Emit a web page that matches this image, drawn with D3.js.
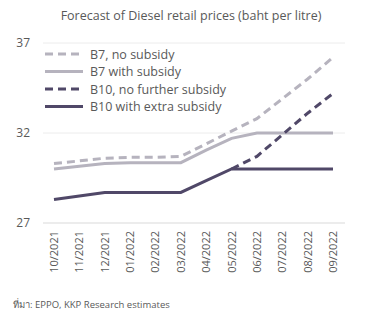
<!DOCTYPE html>
<html>
<head>
<meta charset="utf-8">
<script src="https://cdn.jsdelivr.net/npm/d3@7"></script>
<style>
  body { margin: 0; background: #fff; }
  text { font-family: "Open Sans", "Noto Sans", sans-serif; fill: #595959; }
</style>
</head>
<body>
<svg width="376" height="323"></svg>
<script>
// Data
var months = ["10/2021", "11/2021", "12/2021", "01/2022", "02/2022", "03/2022",
              "04/2022", "05/2022", "06/2022", "07/2022", "08/2022", "09/2022"];
var b7NoSubsidy   = [30.3, 30.45, 30.6, 30.65, 30.65, 30.7, 31.4, 32.1, 32.8, 33.9, 35.0, 36.2];
var b7Subsidy     = [30.0, 30.15, 30.3, 30.35, 30.35, 30.35, 31.05, 31.7, 32.0, 32.0, 32.0, 32.0];
var b10NoFurther  = [null, null, null, null, null, null, null, 30.0, 30.7, 31.9, 33.1, 34.2];
var b10Extra      = [28.3, 28.5, 28.7, 28.7, 28.7, 28.7, 29.35, 30.0, 30.0, 30.0, 30.0, 30.0];
var yTicks = [27, 32, 37];
var seriesNames = ["B7, no subsidy", "B7 with subsidy", "B10, no further subsidy", "B10 with extra subsidy"];

var light = "#b6b3be", dark = "#504868";
var series = [
  { name: seriesNames[0], values: b7NoSubsidy, color: light, dash: "8,5" },
  { name: seriesNames[1], values: b7Subsidy, color: light, dash: null },
  { name: seriesNames[2], values: b10NoFurther, color: dark, dash: "8,5" },
  { name: seriesNames[3], values: b10Extra, color: dark, dash: null }
];

var svg = d3.select("svg");

var x = d3.scalePoint().domain(months).range([54, 333]);
var y = d3.scaleLinear().domain([27, 37]).range([223, 43]);

// Title
svg.append("text")
  .attr("x", 191).attr("y", 20)
  .attr("text-anchor", "middle")
  .style("font-size", "12.5px")
  .text("Forecast of Diesel retail prices (baht per litre)");

// Gridlines
svg.selectAll(".grid")
  .data(yTicks)
  .enter().append("line")
  .attr("x1", 43).attr("x2", 345)
  .attr("y1", d => y(d)).attr("y2", d => y(d))
  .attr("stroke", d => d === 27 ? "#d9d9d9" : "#ececec")
  .attr("stroke-width", 1);

// Y axis labels
svg.selectAll(".ylab")
  .data(yTicks)
  .enter().append("text")
  .attr("x", 30).attr("y", d => y(d) + 4)
  .attr("text-anchor", "end")
  .style("font-size", "12px")
  .text(d => d);

// X axis labels (rotated)
svg.selectAll(".xlab")
  .data(months)
  .enter().append("text")
  .attr("transform", d => "translate(" + (x(d) + 4) + ",231) rotate(-90)")
  .attr("text-anchor", "end")
  .style("font-size", "11px")
  .text(d => d);

// Lines
var line = d3.line()
  .defined(d => d.v != null)
  .x(d => x(d.m))
  .y(d => y(d.v));

svg.selectAll(".series")
  .data(series)
  .enter().append("path")
  .attr("fill", "none")
  .attr("stroke", d => d.color)
  .attr("stroke-width", 3)
  .attr("stroke-dasharray", d => d.dash)
  .attr("d", d => line(d.values.map((v, i) => ({ m: months[i], v: v }))));

// Legend
var legend = svg.selectAll(".legend")
  .data(series)
  .enter().append("g")
  .attr("transform", (d, i) => "translate(45," + (54 + i * 17.5) + ")");

legend.append("line")
  .attr("x1", 0).attr("x2", 38)
  .attr("stroke", d => d.color)
  .attr("stroke-width", 3)
  .attr("stroke-dasharray", d => d.dash);

legend.append("text")
  .attr("x", 45).attr("y", 4.5)
  .style("font-size", "12.5px")
  .text(d => d.name);

// Source
svg.append("text")
  .attr("x", 13).attr("y", 308)
  .style("font-size", "9.5px")
  .text("ที่มา: EPPO, KKP Research estimates");
</script>
</body>
</html>
